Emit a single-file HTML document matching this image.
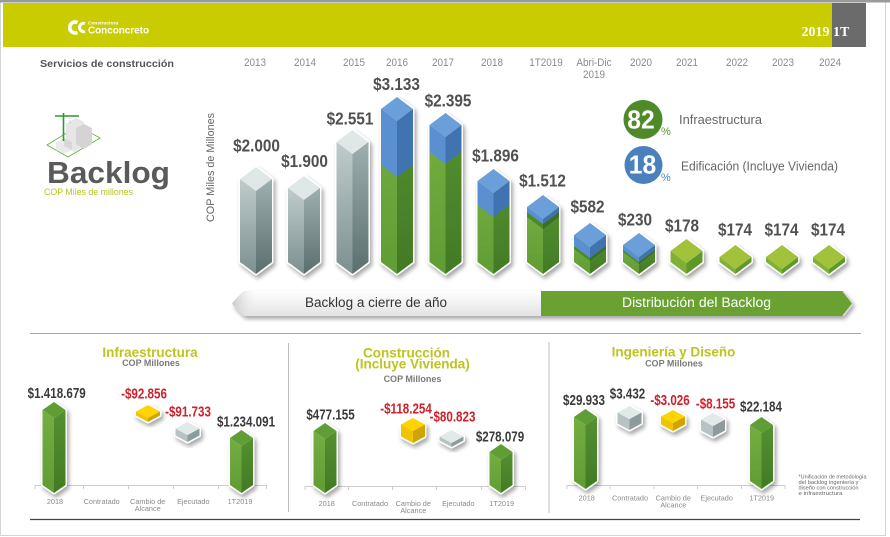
<!DOCTYPE html>
<html><head><meta charset="utf-8">
<style>
html,body{margin:0;padding:0;background:#fff;}
svg{display:block;}
text{font-family:"Liberation Sans",sans-serif;}
.v{font-weight:bold;font-size:18px;fill:#505050;}
.pv{font-weight:bold;font-size:14.5px;fill:#3a3a3a;}
.pr{font-weight:bold;font-size:14.5px;fill:#d0202a;}
.yr{font-size:11px;fill:#8a8a8a;}
.cat{font-size:7.3px;fill:#8a8a8a;}
.tt{font-weight:bold;font-size:13.5px;fill:#bcc51e;}
.cm{font-weight:bold;font-size:9px;fill:#7a7a7a;}
.o{fill:#fff;stroke:#fff;stroke-width:3;stroke-linejoin:round;}
</style></head>
<body>
<svg width="890" height="537" viewBox="0 0 890 537" xmlns="http://www.w3.org/2000/svg">
<defs>
<filter id="sh" x="-50%" y="-20%" width="200%" height="150%">
<feGaussianBlur in="SourceAlpha" stdDeviation="2.2"/>
<feOffset dx="2" dy="3" result="b"/>
<feComponentTransfer><feFuncA type="linear" slope="0.35"/></feComponentTransfer>
<feMerge><feMergeNode/><feMergeNode in="SourceGraphic"/></feMerge>
</filter>
<linearGradient id="gL" x1="0" y1="0" x2="0" y2="1"><stop offset="0" stop-color="#bfcccc"/><stop offset="1" stop-color="#7c8f8f"/></linearGradient>
<linearGradient id="gR" x1="0" y1="0" x2="0" y2="1"><stop offset="0" stop-color="#9eafaf"/><stop offset="1" stop-color="#5b6e6e"/></linearGradient>
<linearGradient id="nL" x1="0" y1="0" x2="0" y2="1"><stop offset="0" stop-color="#73ae41"/><stop offset="1" stop-color="#619c34"/></linearGradient>
<linearGradient id="nR" x1="0" y1="0" x2="0" y2="1"><stop offset="0" stop-color="#54912f"/><stop offset="1" stop-color="#427a26"/></linearGradient>
<linearGradient id="arL" x1="0" y1="0" x2="0" y2="1"><stop offset="0" stop-color="#ffffff"/><stop offset="1" stop-color="#e2e2e2"/></linearGradient>
<linearGradient id="arT" x1="0" y1="0" x2="1" y2="0"><stop offset="0" stop-color="#c8c8c8"/><stop offset="0.08" stop-color="#f2f2f2" stop-opacity="0"/></linearGradient>
</defs>

<!-- frame -->
<rect x="0.5" y="0.5" width="885" height="535" fill="none" stroke="#d4d4d4"/>
<rect x="0" y="0" width="890" height="2.5" fill="#9a9a9a"/>

<!-- header -->
<rect x="3" y="3" width="829" height="44" fill="#cacc02"/>
<rect x="832" y="3" width="34" height="44" fill="#6b6b6b"/>
<path d="M77.5,22.5 A5.5,5.5 0 1 0 77.5,32.5" fill="none" stroke="#fff" stroke-width="3.6"/>
<path d="M85,23.5 A4.2,4.2 0 1 0 85,31.5" fill="none" stroke="#fff" stroke-width="3"/>
<text x="88" y="24.5" font-size="4.8" font-weight="bold" fill="#fff">Constructora</text>
<text x="88" y="33.5" font-size="10.5" font-weight="bold" fill="#fff" textLength="61" lengthAdjust="spacingAndGlyphs">Conconcreto</text>
<text x="801.5" y="36" font-size="14" font-weight="bold" fill="#fff" style="font-family:'Liberation Serif',serif">2019</text>
<text x="833" y="36" font-size="14" font-weight="bold" fill="#fff" style="font-family:'Liberation Serif',serif">1T</text>

<!-- section title & years -->
<text x="40" y="67" font-size="10" font-weight="bold" fill="#555" textLength="134" lengthAdjust="spacingAndGlyphs">Servicios de construcción</text>
<g class="yr" text-anchor="middle">
<text transform="translate(255,66) scale(0.9,1)">2013</text>
<text transform="translate(305,66) scale(0.9,1)">2014</text>
<text transform="translate(354,66) scale(0.9,1)">2015</text>
<text transform="translate(397,66) scale(0.9,1)">2016</text>
<text transform="translate(443,66) scale(0.9,1)">2017</text>
<text transform="translate(492,66) scale(0.9,1)">2018</text>
<text transform="translate(546,66) scale(0.9,1)">1T2019</text>
<text transform="translate(594,66) scale(0.9,1)">Abri-Dic</text>
<text transform="translate(594,78) scale(0.9,1)">2019</text>
<text transform="translate(641,66) scale(0.9,1)">2020</text>
<text transform="translate(687,66) scale(0.9,1)">2021</text>
<text transform="translate(737,66) scale(0.9,1)">2022</text>
<text transform="translate(783,66) scale(0.9,1)">2023</text>
<text transform="translate(830,66) scale(0.9,1)">2024</text>
</g>

<!-- Backlog icon -->
<g>
<polygon points="47,145 78,126 100,138 68,157" fill="none" stroke="#59b03a" stroke-width="0.8"/>
<polygon points="66,124 76,118 84,122 84,146 74,152 66,147" fill="#e6e6e6"/>
<polygon points="76,128 84,124 92,128 92,144 84,149 76,144" fill="#d4d4d4"/>
<polygon points="56,142 64,138 72,142 72,150 64,154 56,150" fill="#eaeaea"/>
<polygon points="64,138 72,142 72,150 64,146" fill="#d8d8d8"/>
<line x1="63.5" y1="113" x2="63.5" y2="141" stroke="#2c9b2c" stroke-width="1.6"/>
<line x1="55" y1="116" x2="79" y2="116" stroke="#2c9b2c" stroke-width="1.4"/>
<line x1="70" y1="116" x2="70" y2="124" stroke="#999" stroke-width="0.6" stroke-dasharray="1,1"/>
</g>
<text x="47" y="183" font-size="31" font-weight="bold" fill="#5a5a5a" textLength="123" lengthAdjust="spacingAndGlyphs">Backlog</text>
<text x="44" y="195" font-size="9" fill="#b8c61a" textLength="89" lengthAdjust="spacingAndGlyphs">COP Miles de millones</text>
<text transform="translate(214,167.5) rotate(-90)" text-anchor="middle" font-size="11" fill="#666" textLength="109" lengthAdjust="spacingAndGlyphs">COP Miles de Millones</text>

<!-- main bars -->
<g transform="translate(256,0)" filter="url(#sh)">
<polygon class="o" points="0,167 16,179 16,262 0,274 -16,262 -16,179"/>
<polygon fill="#e0e8e7" points="0,167 16,179 0,191 -16,179"/>
<polygon fill="url(#gL)" points="-16,179 0,191 0,274 -16,262"/>
<polygon fill="url(#gR)" points="0,191 16,179 16,262 0,274"/>
</g>
<g transform="translate(304,0)" filter="url(#sh)">
<polygon class="o" points="0,176 16,188 16,262 0,274 -16,262 -16,188"/>
<polygon fill="#e0e8e7" points="0,176 16,188 0,200 -16,188"/>
<polygon fill="url(#gL)" points="-16,188 0,200 0,274 -16,262"/>
<polygon fill="url(#gR)" points="0,200 16,188 16,262 0,274"/>
</g>
<g transform="translate(352.5,0)" filter="url(#sh)">
<polygon class="o" points="0,130 16,142 16,262 0,274 -16,262 -16,142"/>
<polygon fill="#e0e8e7" points="0,130 16,142 0,154 -16,142"/>
<polygon fill="url(#gL)" points="-16,142 0,154 0,274 -16,262"/>
<polygon fill="url(#gR)" points="0,154 16,142 16,262 0,274"/>
</g>
<g transform="translate(397,0)" filter="url(#sh)">
<polygon class="o" points="0,97 16,109 16,262 0,274 -16,262 -16,109"/>
<polygon fill="url(#nL)" points="-16,109 0,121 0,274 -16,262"/>
<polygon fill="url(#nR)" points="0,121 16,109 16,262 0,274"/>
<polygon fill="#5a90cf" points="-16,109 0,121 0,177 -16,165"/>
<polygon fill="#4073b0" points="0,121 16,109 16,165 0,177"/>
<polygon fill="#6a9fd9" points="0,97 16,109 0,121 -16,109"/>
</g>
<g transform="translate(445.5,0)" filter="url(#sh)">
<polygon class="o" points="0,113 16,125 16,262 0,274 -16,262 -16,125"/>
<polygon fill="url(#nL)" points="-16,125 0,137 0,274 -16,262"/>
<polygon fill="url(#nR)" points="0,137 16,125 16,262 0,274"/>
<polygon fill="#5a90cf" points="-16,125 0,137 0,164 -16,152"/>
<polygon fill="#4073b0" points="0,137 16,125 16,152 0,164"/>
<polygon fill="#6a9fd9" points="0,113 16,125 0,137 -16,125"/>
</g>
<g transform="translate(493.5,0)" filter="url(#sh)">
<polygon class="o" points="0,169 16,181 16,262 0,274 -16,262 -16,181"/>
<polygon fill="url(#nL)" points="-16,181 0,193 0,274 -16,262"/>
<polygon fill="url(#nR)" points="0,193 16,181 16,262 0,274"/>
<polygon fill="#5a90cf" points="-16,181 0,193 0,217 -16,205"/>
<polygon fill="#4073b0" points="0,193 16,181 16,205 0,217"/>
<polygon fill="#6a9fd9" points="0,169 16,181 0,193 -16,181"/>
</g>
<g transform="translate(543,0)" filter="url(#sh)">
<polygon class="o" points="0,195 16,207 16,262 0,274 -16,262 -16,207"/>
<polygon fill="url(#nL)" points="-16,207 0,219 0,274 -16,262"/>
<polygon fill="url(#nR)" points="0,219 16,207 16,262 0,274"/>
<polygon fill="#4a8a2c" points="-16,212 0,224 0,229 -16,217"/>
<polygon fill="#3a7024" points="0,224 16,212 16,217 0,229"/>
<polygon fill="#5a90cf" points="-16,207 0,219 0,224 -16,212"/>
<polygon fill="#4073b0" points="0,219 16,207 16,212 0,224"/>
<polygon fill="#6a9fd9" points="0,195 16,207 0,219 -16,207"/>
</g>
<g transform="translate(590,0)" filter="url(#sh)">
<polygon class="o" points="0,223 16,235 16,262 0,274 -16,262 -16,235"/>
<polygon fill="url(#nL)" points="-16,235 0,247 0,274 -16,262"/>
<polygon fill="url(#nR)" points="0,247 16,235 16,262 0,274"/>
<polygon fill="#4a8a2c" points="-16,246 0,258 0,261 -16,249"/>
<polygon fill="#3a7024" points="0,258 16,246 16,249 0,261"/>
<polygon fill="#5a90cf" points="-16,235 0,247 0,258 -16,246"/>
<polygon fill="#4073b0" points="0,247 16,235 16,246 0,258"/>
<polygon fill="#6a9fd9" points="0,223 16,235 0,247 -16,235"/>
</g>
<g transform="translate(639,0)" filter="url(#sh)">
<polygon class="o" points="0,233 16,245 16,262 0,274 -16,262 -16,245"/>
<polygon fill="url(#nL)" points="-16,245 0,257 0,274 -16,262"/>
<polygon fill="url(#nR)" points="0,257 16,245 16,262 0,274"/>
<polygon fill="#4a8a2c" points="-16,250 0,262 0,264 -16,252"/>
<polygon fill="#3a7024" points="0,262 16,250 16,252 0,264"/>
<polygon fill="#5a90cf" points="-16,245 0,257 0,262 -16,250"/>
<polygon fill="#4073b0" points="0,257 16,245 16,250 0,262"/>
<polygon fill="#6a9fd9" points="0,233 16,245 0,257 -16,245"/>
</g>
<g transform="translate(686.5,0)" filter="url(#sh)">
<polygon class="o" points="0,239 16,251 16,262 0,274 -16,262 -16,251"/>
<polygon fill="#80b035" points="-16,251 0,263 0,274 -16,262"/>
<polygon fill="#5f982a" points="0,263 16,251 16,262 0,274"/>
<polygon fill="#a2c23a" points="0,239 16,251 0,263 -16,251"/>
</g>
<g transform="translate(735.5,0)" filter="url(#sh)">
<polygon class="o" points="0,245 16,257 16,262 0,274 -16,262 -16,257"/>
<polygon fill="#80b035" points="-16,257 0,269 0,274 -16,262"/>
<polygon fill="#5f982a" points="0,269 16,257 16,262 0,274"/>
<polygon fill="#a2c23a" points="0,245 16,257 0,269 -16,257"/>
</g>
<g transform="translate(782,0)" filter="url(#sh)">
<polygon class="o" points="0,245 16,257 16,262 0,274 -16,262 -16,257"/>
<polygon fill="#80b035" points="-16,257 0,269 0,274 -16,262"/>
<polygon fill="#5f982a" points="0,269 16,257 16,262 0,274"/>
<polygon fill="#a2c23a" points="0,245 16,257 0,269 -16,257"/>
</g>
<g transform="translate(829,0)" filter="url(#sh)">
<polygon class="o" points="0,245 16,257 16,262 0,274 -16,262 -16,257"/>
<polygon fill="#80b035" points="-16,257 0,269 0,274 -16,262"/>
<polygon fill="#5f982a" points="0,269 16,257 16,262 0,274"/>
<polygon fill="#a2c23a" points="0,245 16,257 0,269 -16,257"/>
</g>

<!-- main value labels -->
<g class="v" text-anchor="middle">
<text transform="translate(256.5,151.5) scale(0.85,1)">$2.000</text>
<text transform="translate(304.5,167) scale(0.85,1)">$1.900</text>
<text transform="translate(350,124.5) scale(0.85,1)">$2.551</text>
<text transform="translate(396.5,90) scale(0.85,1)">$3.133</text>
<text transform="translate(448,106.5) scale(0.85,1)">$2.395</text>
<text transform="translate(495.5,161.5) scale(0.85,1)">$1.896</text>
<text transform="translate(542.5,186.5) scale(0.85,1)">$1.512</text>
<text transform="translate(587.5,212.5) scale(0.85,1)">$582</text>
<text transform="translate(635,225.5) scale(0.85,1)">$230</text>
<text transform="translate(682,231.5) scale(0.85,1)">$178</text>
<text transform="translate(735,235.5) scale(0.85,1)">$174</text>
<text transform="translate(781.5,235.5) scale(0.85,1)">$174</text>
<text transform="translate(828,235.5) scale(0.85,1)">$174</text>
</g>

<!-- legend -->
<circle cx="643" cy="119.5" r="19.5" fill="#4e8a2a"/>
<text transform="translate(641,128.5) scale(0.95,1)" text-anchor="middle" font-size="26" font-weight="bold" fill="#fff">82</text>
<text x="661" y="135" font-size="11" fill="#5a9a2a">%</text>
<text x="679" y="124" font-size="12.5" fill="#666" textLength="83" lengthAdjust="spacingAndGlyphs">Infraestructura</text>
<circle cx="643.5" cy="165" r="19" fill="#4a80bd"/>
<text transform="translate(642.5,173.5) scale(0.95,1)" text-anchor="middle" font-size="26" font-weight="bold" fill="#fff">18</text>
<text x="661" y="181" font-size="11" fill="#4a80bd">%</text>
<text x="681" y="170.5" font-size="12.5" fill="#666" textLength="157" lengthAdjust="spacingAndGlyphs">Edificación (Incluye Vivienda)</text>

<!-- arrow bar -->
<g filter="url(#sh)">
<path d="M244,291 L541,291 L541,316 L244,316 Q237,310 232,303.5 Q237,297 244,291 Z" fill="url(#arL)"/>
<path d="M244,291 L541,291 L541,316 L244,316 Q237,310 232,303.5 Q237,297 244,291 Z" fill="url(#arT)"/>
<path d="M541,291 L843,291 Q848,297 853,303.5 Q848,310 843,316 L541,316 Z" fill="#6aa232"/>
</g>
<path d="M843,291 Q848,297 853,303.5 Q848,310 843,316" fill="none" stroke="#dcdcdc" stroke-width="1.6"/>
<text x="305" y="307" font-size="13.5" fill="#333" textLength="142" lengthAdjust="spacingAndGlyphs">Backlog a cierre de año</text>
<text x="622" y="307" font-size="13.5" fill="#fff" textLength="149" lengthAdjust="spacingAndGlyphs">Distribución del Backlog</text>

<!-- separators -->
<line x1="30" y1="333.5" x2="861" y2="333.5" stroke="#a8a8a8" stroke-width="1"/>
<line x1="30" y1="519.5" x2="860" y2="519.5" stroke="#444" stroke-width="1.2"/>
<line x1="288.5" y1="343" x2="288.5" y2="512" stroke="#bdbdbd" stroke-width="1"/>
<line x1="549" y1="342" x2="549" y2="513" stroke="#bdbdbd" stroke-width="1"/>

<!-- panel titles -->
<text class="tt" x="150" y="357" text-anchor="middle">Infraestructura</text>
<text class="cm" x="151" y="366" text-anchor="middle">COP Millones</text>
<text class="tt" x="406.5" y="357.5" text-anchor="middle">Construcción</text>
<text class="tt" x="412.5" y="368.5" text-anchor="middle">(Incluye Vivienda)</text>
<text class="cm" x="412.5" y="382" text-anchor="middle">COP Millones</text>
<text class="tt" x="673.5" y="356.5" text-anchor="middle">Ingeniería y Diseño</text>
<text class="cm" x="674" y="366.5" text-anchor="middle">COP Millones</text>

<!-- panel axes -->
<g stroke="#cfcfcf" stroke-width="1">
<line x1="35" y1="485.5" x2="267" y2="485.5"/>
<line x1="35" y1="485" x2="35" y2="489"/><line x1="83.5" y1="485" x2="83.5" y2="489"/><line x1="128.5" y1="485" x2="128.5" y2="489"/><line x1="173.5" y1="485" x2="173.5" y2="489"/><line x1="218.5" y1="485" x2="218.5" y2="489"/><line x1="266.5" y1="485" x2="266.5" y2="489"/>
<line x1="305" y1="486.5" x2="526" y2="486.5"/>
<line x1="305" y1="486" x2="305" y2="490"/><line x1="348.5" y1="486" x2="348.5" y2="490"/><line x1="392.5" y1="486" x2="392.5" y2="490"/><line x1="436.5" y1="486" x2="436.5" y2="490"/><line x1="481.5" y1="486" x2="481.5" y2="490"/><line x1="525.5" y1="486" x2="525.5" y2="490"/>
<line x1="567" y1="485.5" x2="785" y2="485.5"/>
<line x1="567" y1="485" x2="567" y2="489"/><line x1="610" y1="485" x2="610" y2="489"/><line x1="654" y1="485" x2="654" y2="489"/><line x1="697.5" y1="485" x2="697.5" y2="489"/><line x1="741.5" y1="485" x2="741.5" y2="489"/><line x1="785" y1="485" x2="785" y2="489"/>
</g>

<!-- panel category labels -->
<g class="cat" text-anchor="middle">
<text x="55" y="504">2018</text><text x="101.7" y="504">Contratado</text><text x="147.7" y="504">Cambio de</text><text x="147.7" y="511">Alcance</text><text x="193.3" y="504">Ejecutado</text><text x="240" y="504">1T2019</text>
<text x="326.7" y="506">2018</text><text x="370" y="506">Contratado</text><text x="413.3" y="506">Cambio de</text><text x="413.3" y="513">Alcance</text><text x="458.3" y="506">Ejecutado</text><text x="501.7" y="506">1T2019</text>
<text x="586.7" y="500.7">2018</text><text x="630" y="500.7">Contratado</text><text x="673.3" y="500.7">Cambio de</text><text x="673.3" y="507.5">Alcance</text><text x="716.7" y="500.7">Ejecutado</text><text x="761.7" y="500.7">1T2019</text>
</g>

<!-- panel bars -->
<g transform="translate(54,0)" filter="url(#sh)">
<polygon class="o" points="0,402 11.5,410 11.5,485 0,493 -11.5,485 -11.5,410"/>
<polygon fill="url(#nL)" points="-11.5,410 0,418 0,493 -11.5,485"/>
<polygon fill="url(#nR)" points="0,418 11.5,410 11.5,485 0,493"/>
<polygon fill="#5f9d35" points="0,402 11.5,410 0,418 -11.5,410"/>
</g>
<g transform="translate(241.5,0)" filter="url(#sh)">
<polygon class="o" points="0,430 11.5,438 11.5,485 0,493 -11.5,485 -11.5,438"/>
<polygon fill="url(#nL)" points="-11.5,438 0,446 0,493 -11.5,485"/>
<polygon fill="url(#nR)" points="0,446 11.5,438 11.5,485 0,493"/>
<polygon fill="#5f9d35" points="0,430 11.5,438 0,446 -11.5,438"/>
</g>
<g transform="translate(325,0)" filter="url(#sh)">
<polygon class="o" points="0,423 11.5,431 11.5,485 0,493 -11.5,485 -11.5,431"/>
<polygon fill="url(#nL)" points="-11.5,431 0,439 0,493 -11.5,485"/>
<polygon fill="url(#nR)" points="0,439 11.5,431 11.5,485 0,493"/>
<polygon fill="#5f9d35" points="0,423 11.5,431 0,439 -11.5,431"/>
</g>
<g transform="translate(501,0)" filter="url(#sh)">
<polygon class="o" points="0,444 11.5,452 11.5,485 0,493 -11.5,485 -11.5,452"/>
<polygon fill="url(#nL)" points="-11.5,452 0,460 0,493 -11.5,485"/>
<polygon fill="url(#nR)" points="0,460 11.5,452 11.5,485 0,493"/>
<polygon fill="#5f9d35" points="0,444 11.5,452 0,460 -11.5,452"/>
</g>
<g transform="translate(585.5,0)" filter="url(#sh)">
<polygon class="o" points="0,409 11.5,417 11.5,481 0,489 -11.5,481 -11.5,417"/>
<polygon fill="url(#nL)" points="-11.5,417 0,425 0,489 -11.5,481"/>
<polygon fill="url(#nR)" points="0,425 11.5,417 11.5,481 0,489"/>
<polygon fill="#5f9d35" points="0,409 11.5,417 0,425 -11.5,417"/>
</g>
<g transform="translate(761.5,0)" filter="url(#sh)">
<polygon class="o" points="0,417 11.5,425 11.5,481 0,489 -11.5,481 -11.5,425"/>
<polygon fill="url(#nL)" points="-11.5,425 0,433 0,489 -11.5,481"/>
<polygon fill="url(#nR)" points="0,433 11.5,425 11.5,481 0,489"/>
<polygon fill="#5f9d35" points="0,417 11.5,425 0,433 -11.5,425"/>
</g>

<!-- cubes -->
<g transform="translate(148,0)" filter="url(#sh)">
<polygon class="o" points="0,405 12,411.5 12,415.5 0,422 -12,415.5 -12,411.5"/>
<polygon fill="#f0c400" points="-12,411.5 0,418 0,422 -12,415.5"/>
<polygon fill="#cfa300" points="0,418 12,411.5 12,415.5 0,422"/>
<polygon fill="#ffd400" points="0,405 12,411.5 0,418 -12,411.5"/>
</g>
<g transform="translate(187.5,0)" filter="url(#sh)">
<polygon class="o" points="0,422 12,428.5 12,435.5 0,442 -12,435.5 -12,428.5"/>
<polygon fill="#b7c3c3" points="-12,428.5 0,435 0,442 -12,435.5"/>
<polygon fill="#8c9c9c" points="0,435 12,428.5 12,435.5 0,442"/>
<polygon fill="#e2e9e9" points="0,422 12,428.5 0,435 -12,428.5"/>
</g>
<g transform="translate(413,0)" filter="url(#sh)">
<polygon class="o" points="0,418 12,424.5 12,436.5 0,443 -12,436.5 -12,424.5"/>
<polygon fill="#f0c400" points="-12,424.5 0,431 0,443 -12,436.5"/>
<polygon fill="#cfa300" points="0,431 12,424.5 12,436.5 0,443"/>
<polygon fill="#ffd400" points="0,418 12,424.5 0,431 -12,424.5"/>
</g>
<g transform="translate(451.5,0)" filter="url(#sh)">
<polygon class="o" points="0,430 12,436.5 12,440.5 0,447 -12,440.5 -12,436.5"/>
<polygon fill="#b7c3c3" points="-12,436.5 0,443 0,447 -12,440.5"/>
<polygon fill="#8c9c9c" points="0,443 12,436.5 12,440.5 0,447"/>
<polygon fill="#e2e9e9" points="0,430 12,436.5 0,443 -12,436.5"/>
</g>
<g transform="translate(629.5,0)" filter="url(#sh)">
<polygon class="o" points="0,406 12,412.5 12,423.5 0,430 -12,423.5 -12,412.5"/>
<polygon fill="#b7c3c3" points="-12,412.5 0,419 0,430 -12,423.5"/>
<polygon fill="#8c9c9c" points="0,419 12,412.5 12,423.5 0,430"/>
<polygon fill="#e2e9e9" points="0,406 12,412.5 0,419 -12,412.5"/>
</g>
<g transform="translate(673,0)" filter="url(#sh)">
<polygon class="o" points="0,410 12,416.5 12,424.5 0,431 -12,424.5 -12,416.5"/>
<polygon fill="#f0c400" points="-12,416.5 0,423 0,431 -12,424.5"/>
<polygon fill="#cfa300" points="0,423 12,416.5 12,424.5 0,431"/>
<polygon fill="#ffd400" points="0,410 12,416.5 0,423 -12,416.5"/>
</g>
<g transform="translate(713,0)" filter="url(#sh)">
<polygon class="o" points="0,413 12,419.5 12,430.5 0,437 -12,430.5 -12,419.5"/>
<polygon fill="#b7c3c3" points="-12,419.5 0,426 0,437 -12,430.5"/>
<polygon fill="#8c9c9c" points="0,426 12,419.5 12,430.5 0,437"/>
<polygon fill="#e2e9e9" points="0,413 12,419.5 0,426 -12,419.5"/>
</g>

<!-- panel value labels -->
<g text-anchor="middle">
<text class="pv" transform="translate(56.7,398) scale(0.8,1)">$1.418.679</text>
<text class="pr" transform="translate(144,398.3) scale(0.8,1)">-$92.856</text>
<text class="pr" transform="translate(188,416.7) scale(0.8,1)">-$91.733</text>
<text class="pv" transform="translate(246,426.7) scale(0.8,1)">$1.234.091</text>
<text class="pv" transform="translate(330.5,419.3) scale(0.8,1)">$477.155</text>
<text class="pr" transform="translate(406,413.3) scale(0.8,1)">-$118.254</text>
<text class="pr" transform="translate(452.5,421.7) scale(0.8,1)">-$80.823</text>
<text class="pv" transform="translate(500,441.7) scale(0.8,1)">$278.079</text>
<text class="pv" transform="translate(584,405) scale(0.8,1)">$29.933</text>
<text class="pv" transform="translate(627.5,398.3) scale(0.8,1)">$3.432</text>
<text class="pr" transform="translate(670,405) scale(0.8,1)">-$3.026</text>
<text class="pr" transform="translate(715.5,408.3) scale(0.8,1)">-$8.155</text>
<text class="pv" transform="translate(761,411.7) scale(0.8,1)">$22.184</text>
</g>

<!-- note -->
<g font-size="5.2" fill="#666">
<text x="798.5" y="478.3" textLength="68" lengthAdjust="spacingAndGlyphs">*Unificación de metodología</text>
<text x="798.5" y="484" textLength="60" lengthAdjust="spacingAndGlyphs">del backlog ingeniería y</text>
<text x="798.5" y="489.5" textLength="60" lengthAdjust="spacingAndGlyphs">diseño con construcción</text>
<text x="798.5" y="495" textLength="44" lengthAdjust="spacingAndGlyphs">e infraestructura</text>
</g>
</svg>
</body></html>
